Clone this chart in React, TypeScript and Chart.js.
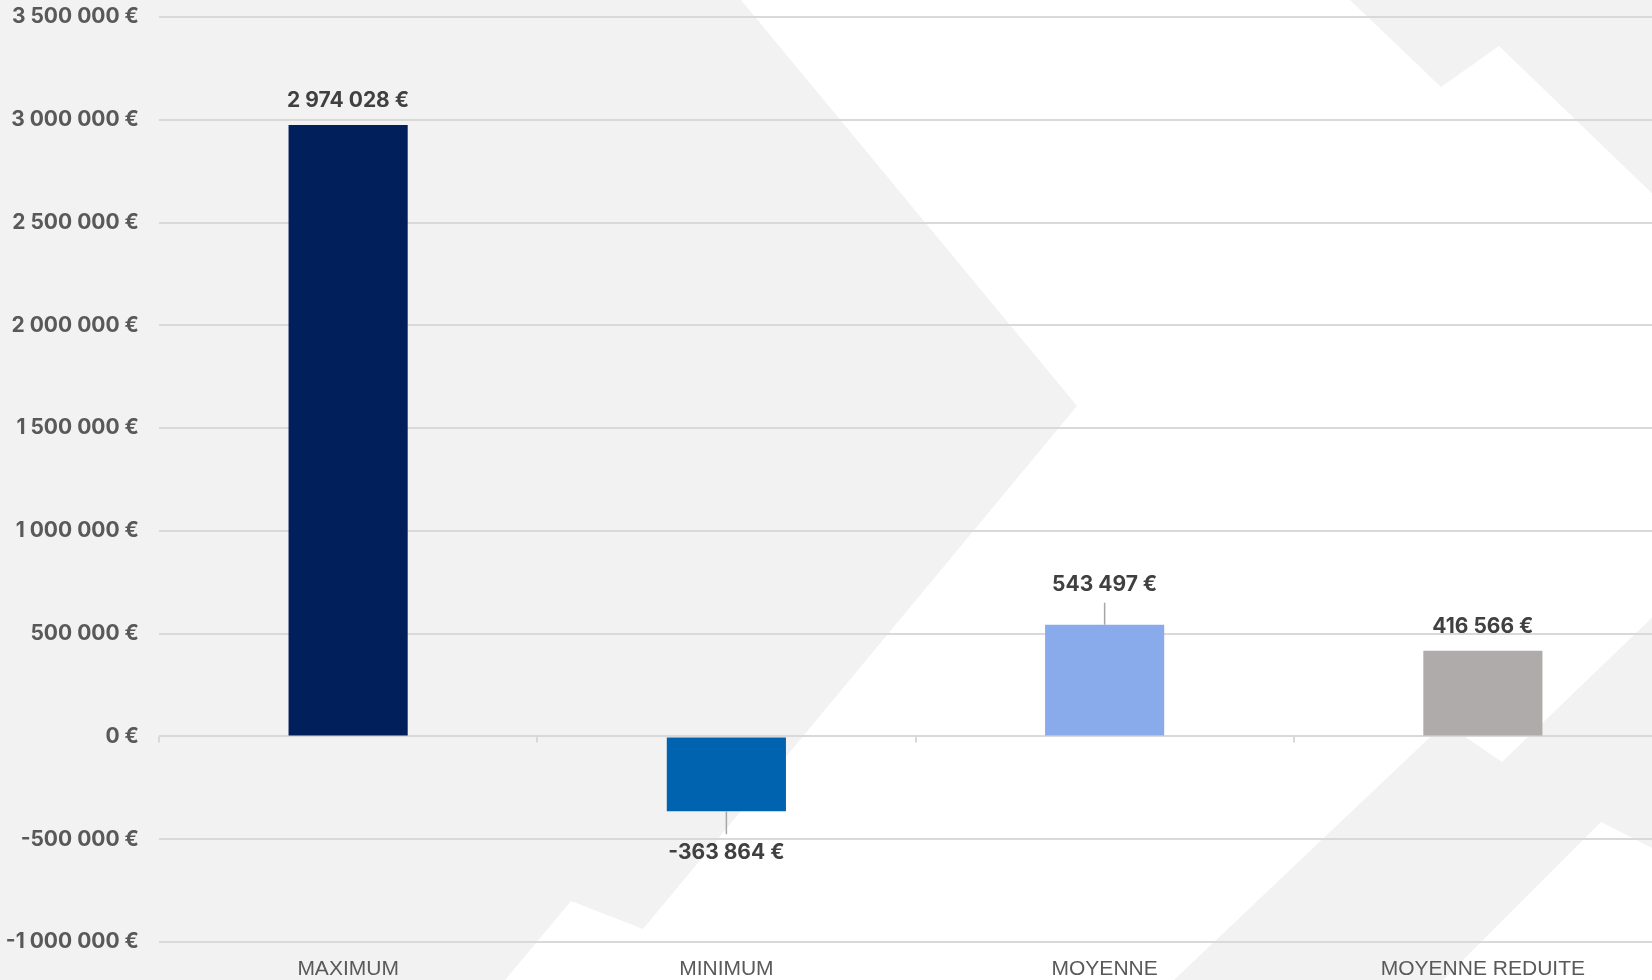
import React, { useEffect, useRef } from "react";
import { Chart, registerables } from "chart.js";

Chart.register(...registerables);

// ---- data ----
const categories = ["MAXIMUM", "MINIMUM", "MOYENNE", "MOYENNE REDUITE"];
const values = [2974028, -363864, 543497, 416566];
const barColors = ["#001F5B", "#0063AF", "#8AABEB", "#AFABAA"];
const yMin = -1000000;
const yMax = 3500000;
const yStep = 500000;

// ---- label styling (distance of value label from bar end, leader lines) ----
const labelGap = [24, 41, 40, 24];
const labelLeader = [false, true, true, false];

// ---- decorative background shapes (canvas pixels) ----
const bgShapes: number[][][] = [
  [[0, 0], [741, 0], [1077, 406], [643, 929], [571, 901], [505, 980], [0, 980]],
  [[1350, 0], [1441, 87], [1499, 46], [1660, 201], [1660, 0]],
  [[1174, 980], [1445, 723], [1502, 762], [1660, 610], [1660, 852], [1601, 822], [1443, 980]],
];

function fmt(v: number): string {
  const s = Math.abs(Math.round(v))
    .toString()
    .replace(/\B(?=(\d{3})+(?!\d))/g, " ");
  return (v < 0 ? "-" : "") + s + " €";
}

const bgPlugin = {
  id: "bgShapes",
  beforeDraw(chart: any) {
    const ctx = chart.ctx;
    ctx.save();
    ctx.fillStyle = "#ffffff";
    ctx.fillRect(0, 0, chart.width, chart.height);
    ctx.fillStyle = "#F2F2F2";
    bgShapes.forEach((poly) => {
      ctx.beginPath();
      poly.forEach(([x, y], i) => (i === 0 ? ctx.moveTo(x, y) : ctx.lineTo(x, y)));
      ctx.closePath();
      ctx.fill();
    });
    ctx.restore();
  },
};

const labelPlugin = {
  id: "valueLabels",
  afterDatasetsDraw(chart: any) {
    const ctx = chart.ctx;
    const xs = chart.scales.x;
    const ys = chart.scales.y;
    const y0 = ys.getPixelForValue(0);
    ctx.save();
    // small category ticks on zero line
    ctx.strokeStyle = "#D9D9D9";
    ctx.lineWidth = 2;
    const n = categories.length;
    for (let i = 0; i <= n; i++) {
      const x = Math.round(xs.left + (i * xs.width) / n);
      ctx.beginPath();
      ctx.moveTo(x, y0);
      ctx.lineTo(x, y0 + 6);
      ctx.stroke();
    }
    const meta = chart.getDatasetMeta(0);
    ctx.font = "bold 21px Inter";
    ctx.textAlign = "center";
    ctx.textBaseline = "middle";
    meta.data.forEach((bar: any, i: number) => {
      const v = values[i];
      const dir = v >= 0 ? -1 : 1;
      const endY = bar.y;
      const ly = endY + dir * labelGap[i];
      if (labelLeader[i]) {
        ctx.strokeStyle = "#A6A6A6";
        ctx.lineWidth = 1.5;
        ctx.beginPath();
        ctx.moveTo(bar.x, endY);
        ctx.lineTo(bar.x, ly - dir * 18);
        ctx.stroke();
      }
      ctx.fillStyle = "#404040";
      ctx.fillText(fmt(v), bar.x, ly);
    });
    ctx.restore();
  },
};

export default function App() {
  const ref = useRef<HTMLCanvasElement | null>(null);
  useEffect(() => {
    if (!ref.current) return;
    const chart = new Chart(ref.current, {
      type: "bar",
      data: {
        labels: categories,
        datasets: [
          {
            data: values,
            backgroundColor: barColors,
            borderWidth: 0,
            barPercentage: 1,
            categoryPercentage: 0.315,
          },
        ],
      },
      options: {
        animation: false,
        responsive: true,
        maintainAspectRatio: false,
        layout: { padding: { top: 17, right: 0, bottom: 0, left: 0 } },
        plugins: { legend: { display: false }, tooltip: { enabled: false } },
        scales: {
          x: {
            afterFit(scale: any) {
              scale.height = 38;
              scale.paddingLeft = 0;
              scale.paddingRight = 0;
            },
            grid: { display: false },
            border: { display: false },
            ticks: {
              color: "#595959",
              font: { family: "'Liberation Sans', Arial, sans-serif", size: 21 },
              padding: 7,
              maxRotation: 0,
              autoSkip: false,
            },
          },
          y: {
            min: yMin,
            max: yMax,
            afterFit(scale: any) {
              scale.width = 159;
              scale.paddingTop = 0;
              scale.paddingBottom = 0;
            },
            grid: { color: "#D9D9D9", lineWidth: 2, drawTicks: false },
            border: { display: false },
            ticks: {
              stepSize: yStep,
              color: "#595959",
              font: { family: "Inter", size: 21, weight: "bold" },
              padding: 20,
              callback: (v: any) => fmt(Number(v)),
            },
          },
        },
      },
      plugins: [bgPlugin, labelPlugin],
    });
    return () => chart.destroy();
  }, []);
  return (
    <div
      style={{
        position: "fixed",
        left: 0,
        top: 0,
        width: "100vw",
        height: "100vh",
        overflow: "hidden",
        background: "#fff",
      }}
    >
      <div style={{ position: "absolute", left: 0, top: 0, width: 1672, height: 980 }}>
        <canvas ref={ref} />
      </div>
    </div>
  );
}
